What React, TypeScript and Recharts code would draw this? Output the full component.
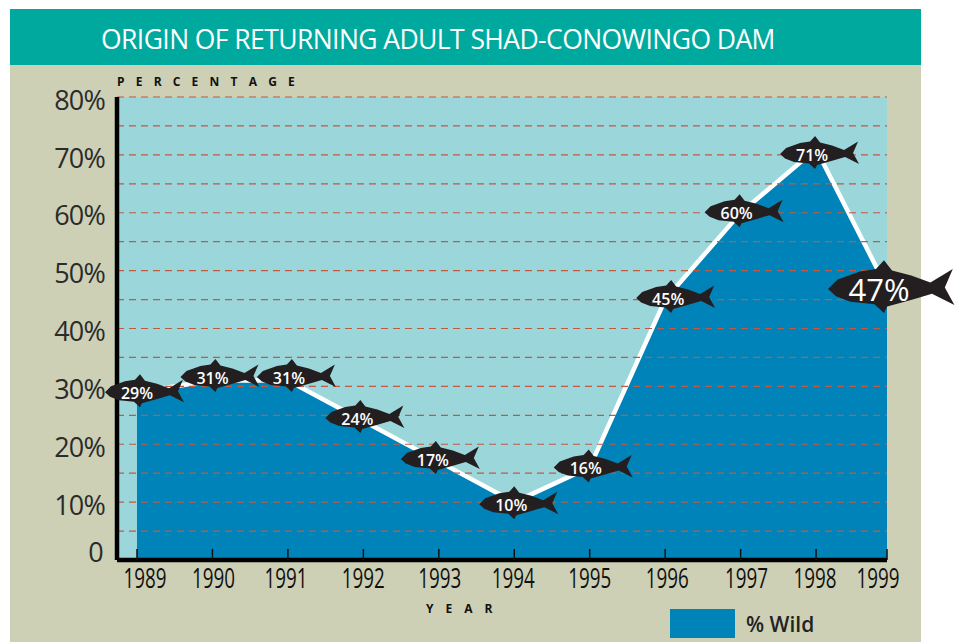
import { ComposedChart, Area, Line, XAxis, YAxis, ReferenceArea, ReferenceLine } from 'recharts';

const years = [1989, 1990, 1991, 1992, 1993, 1994, 1995, 1996, 1997, 1998, 1999];
const wildPercent = [29, 31, 31, 24, 17, 10, 16, 45, 60, 71, 47];
// the last column is squeezed in the original, 1999 sits short of a full year step
const xPositions = [1989, 1990, 1991, 1992, 1993, 1994, 1995, 1996, 1997, 1998, 1998.94];
const yTicks = [0, 10, 20, 30, 40, 50, 60, 70, 80];
const dashLevels = [5, 10, 15, 20, 25, 30, 35, 40, 45, 50, 55, 60, 65, 70, 75, 80];

const chartData = years.map((year, i) => ({ year, x: xPositions[i], wild: wildPercent[i] }));

// hand placement of the fish around each point, as in the printed figure
const fishDx = [-32, -32, -31, -38, -38, -35, -36, -29, -36, -36, -59];
const fishDy = [0, -3.5, -3.5, -3, -2.5, 2, 0, -1.5, -0.6, 5, 1];
const yearLabelDx = [8, 1, -2, 0, 1, -1, 0, 2, 6, -1, -9];

const FONT = '"Open Sans", sans-serif';
const FISH_PATH =
  'M0 0 L6 -6 L20 -11 L30 -12.5 L35 -18 L40 -11.5 L52 -8.5 L64 -4 L78 -12.5 L73 -1 L79 10 L65 3 L53 6.5 L37 11 L35 15 L29 9.5 L14 8 L5 4.5 Z';

function FishDot(props: any) {
  const { cx, cy, index, payload } = props;
  if (cx == null || cy == null) return null;
  const big = index === years.length - 1;
  const scale = big ? 1.6 : 1;
  const noseX = cx + fishDx[index];
  const noseY = cy + fishDy[index];
  return (
    <g>
      <path d={FISH_PATH} transform={`translate(${noseX} ${noseY}) scale(${scale})`} fill="#231F20" />
      <text
        x={noseX + (big ? 51 : 32)}
        y={noseY + 1}
        dy="0.36em"
        textAnchor="middle"
        fill="#fff"
        fontFamily={FONT}
        fontWeight={big ? 500 : 600}
        fontSize={big ? 31 : 16}
      >
        {payload.wild}%
      </text>
    </g>
  );
}

function YearTick(props: any) {
  const { x, y, index } = props;
  return (
    <g>
      <line x1={x} x2={x} y1={y - 11} y2={y} stroke="#111" strokeWidth={1.5} />
      <text
        x={x + yearLabelDx[index]}
        y={y + 28}
        textAnchor="middle"
        fill="#111"
        fontFamily={FONT}
        fontWeight={500}
        fontSize={27}
        textLength={43}
        lengthAdjust="spacingAndGlyphs"
      >
        {years[index]}
      </text>
    </g>
  );
}

function PercentTick(props: any) {
  const { x, y, payload } = props;
  const isZero = payload.value === 0;
  return (
    <text
      x={x - (isZero ? 14 : 12)}
      y={y + (isZero ? -8 : 3)}
      dy="0.36em"
      textAnchor="end"
      fill="#2b2b2b"
      fontFamily={FONT}
      fontWeight={500}
      fontSize={27}
      letterSpacing={-0.8}
    >
      {isZero ? '0' : `${payload.value}%`}
    </text>
  );
}

export default function App() {
  return (
    <div style={{ position: 'absolute', left: 0, top: 0, width: 959, height: 642, background: '#fff', overflow: 'hidden' }}>
      <div style={{ position: 'absolute', left: 10, top: 9, width: 911, height: 633, background: '#CDD0B5' }} />
      <div
        style={{
          position: 'absolute',
          left: 10,
          top: 9,
          width: 911,
          height: 56,
          background: '#00A99D',
          color: '#fff',
          fontFamily: FONT,
          fontSize: 26.5,
          fontWeight: 500,
          lineHeight: '60px',
          paddingLeft: 91,
          boxSizing: 'border-box',
          letterSpacing: -0.58,
          whiteSpace: 'nowrap',
        }}
      >
        ORIGIN OF RETURNING ADULT SHAD-CONOWINGO DAM
      </div>
      <div style={{ position: 'absolute', left: 117, top: 73, fontFamily: FONT, fontWeight: 700, fontSize: 12, letterSpacing: 11.2, color: '#111', whiteSpace: 'nowrap' }}>
        PERCENTAGE
      </div>
      <div style={{ position: 'absolute', left: 426, top: 600, fontFamily: FONT, fontWeight: 700, fontSize: 12, letterSpacing: 12, color: '#111', whiteSpace: 'nowrap' }}>
        YEAR
      </div>
      <div style={{ position: 'absolute', left: 670, top: 609, width: 65, height: 29, background: '#0083B8' }} />
      <div style={{ position: 'absolute', left: 746, top: 609, fontFamily: FONT, fontWeight: 600, fontSize: 21, lineHeight: '31px', color: '#222', whiteSpace: 'nowrap' }}>
        % Wild
      </div>
      <div style={{ position: 'absolute', left: 0, top: 0 }}>
        <ComposedChart width={959} height={642} data={chartData} margin={{ top: 97, right: 72, bottom: 22, left: 57 }}>
          <XAxis
            dataKey="x"
            type="number"
            domain={[1988.735, 1998.94]}
            ticks={xPositions}
            interval={0}
            height={60}
            tickSize={0}
            tickMargin={0}
            tickLine={false}
            axisLine={{ stroke: '#000', strokeWidth: 4.5 }}
            tick={YearTick}
          />
          <YAxis
            type="number"
            domain={[0, 80]}
            ticks={yTicks}
            interval={0}
            width={60}
            tickSize={0}
            tickMargin={0}
            tickLine={false}
            axisLine={{ stroke: '#000', strokeWidth: 4.5 }}
            tick={PercentTick}
          />
          <ReferenceArea y1={0} y2={80} fill="#9AD6DA" fillOpacity={1} stroke="none" />
          <Area
            dataKey="wild"
            type="linear"
            fill="#0083B8"
            fillOpacity={1}
            stroke="#fff"
            strokeWidth={4.5}
            dot={false}
            activeDot={false}
            isAnimationActive={false}
          />
          {dashLevels.map((level) => (
            <ReferenceLine key={level} y={level} stroke="#C4593F" strokeWidth={1.2} strokeDasharray="7 5" />
          ))}
          <Line
            dataKey="wild"
            type="linear"
            stroke="none"
            dot={(p: any) => <FishDot key={p.index} {...p} />}
            activeDot={false}
            isAnimationActive={false}
          />
        </ComposedChart>
      </div>
    </div>
  );
}
